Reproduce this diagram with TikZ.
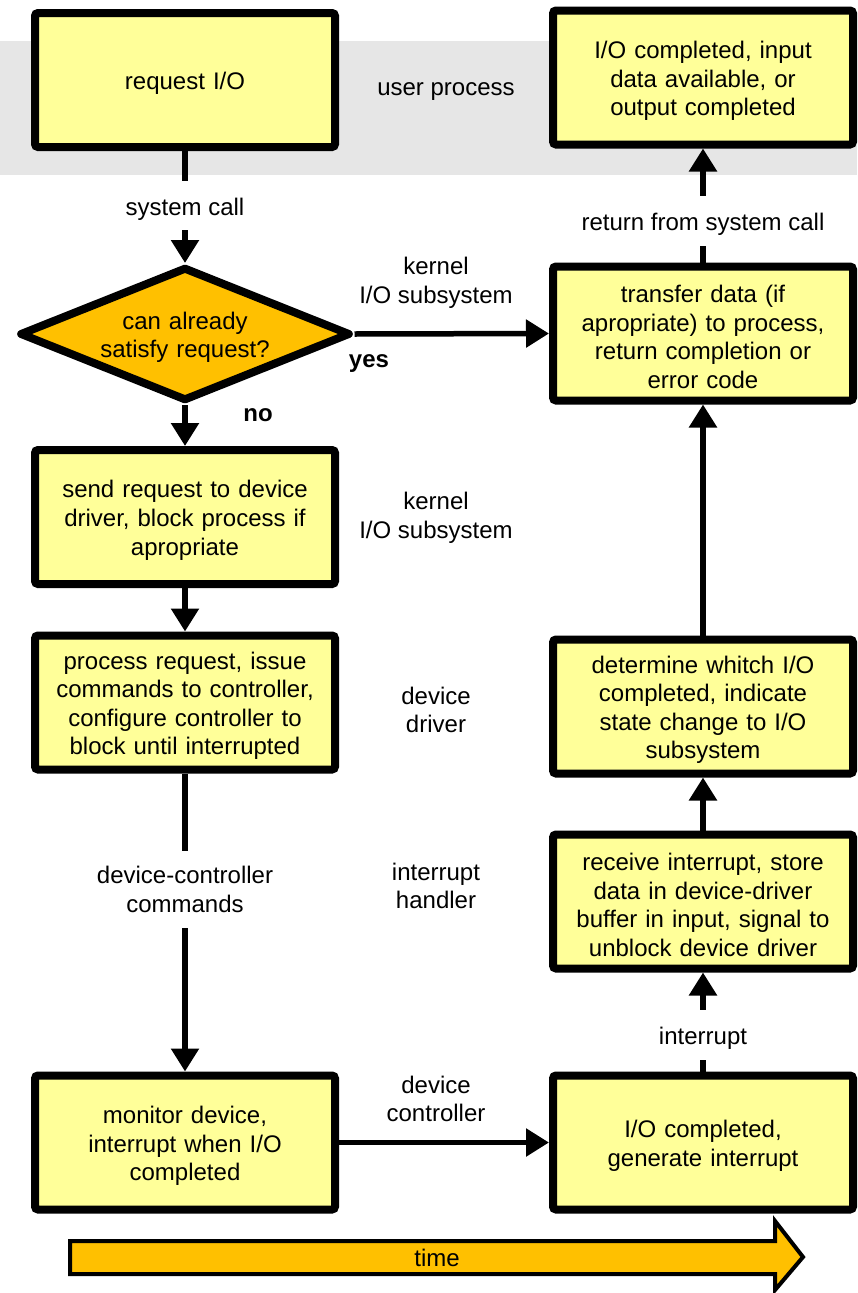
\documentclass[tikz,border=0pt]{standalone}
\usepackage{fontspec}
\setmainfont{Liberation Sans}
\usetikzlibrary{arrows.meta,shapes.geometric}
\definecolor{boxyellow}{HTML}{FFFF99}
\definecolor{decorange}{HTML}{FFC000}
\definecolor{bandgray}{HTML}{E6E6E6}
\begin{document}
\begin{tikzpicture}[x=1pt,y=-1pt,
  every node/.style={font=\fontsize{24}{28.6}\selectfont, execute at begin node={\rule{0pt}{24pt}}},
  procbox/.style={draw, line width=8pt, fill=boxyellow, rounded corners=3pt,
    minimum width=300pt, minimum height=134pt, text width=290pt, align=center, inner sep=0pt},
  decbox/.style={draw, shape=diamond, aspect=2.5, line width=8pt, line join=round,
    fill=decorange, minimum width=331pt, minimum height=134pt, inner sep=-10pt,
    text width=190pt, align=center},
  gaplabel/.style={inner sep=0pt, align=center},
  sidelabel/.style={align=center, inner sep=0pt},
  boldlabel/.style={font=\fontsize{24}{28.6}\selectfont\bfseries, inner sep=0pt},
  line/.style={line width=5.5pt},
  conn/.style={line width=5.5pt, -{Triangle[length=23pt,width=27pt]}},
  timearrow/.style={draw, line width=4pt, fill=decorange, line join=miter}
]
\useasboundingbox (0,0) rectangle (857,1293);
% user process band
\fill[bandgray] (0,41) rectangle (857,175);

% left column
\node[procbox] (req) at (185,80) {request I/O};
\node[decbox] (dec) at (185,334) {can already\\satisfy request?};
\node[procbox] (send) at (185,517) {send request to device\\driver, block process if\\apropriate};
\node[procbox] (proc) at (185,702.5) {process request, issue\\commands to controller,\\configure controller to\\block until interrupted};
\node[procbox] (mon) at (185,1142.5) {monitor device,\\interrupt when I/O\\completed};

% right column
\node[procbox] (out) at (703,77.5) {I/O completed, input\\data available, or\\output completed};
\node[procbox] (tr) at (703,333.5) {transfer data (if\\apropriate) to process,\\return completion or\\error code};
\node[procbox] (det) at (703,706.5) {determine whitch I/O\\completed, indicate\\state change to I/O\\subsystem};
\node[procbox] (rec) at (703,901.5) {receive interrupt, store\\data in device-driver\\buffer in input, signal to\\unblock device driver};
\node[procbox] (gen) at (703,1142.5) {I/O completed,\\generate interrupt};

% labels breaking connectors
\node[gaplabel, minimum height=49pt] (sc) at (185,205.5) {system call};
\node[gaplabel, minimum height=77pt] (dcc) at (185,889.5) {device-controller\\commands};
\node[gaplabel, minimum height=50pt] (intr) at (703,1035) {interrupt};
\node[gaplabel, minimum height=50pt] (rsc) at (703,221) {return from system call};

% side labels
\node[sidelabel] (up) at (446,86) {user process};
\node[sidelabel] (k1) at (436,283) {kernel\\I/O subsystem};
\node[sidelabel] (k2) at (436,518) {kernel\\I/O subsystem};
\node[sidelabel] (dd) at (436,710) {device\\driver};
\node[sidelabel] (ih) at (436,886) {interrupt\\handler};
\node[sidelabel] (dc) at (436,1099) {device\\controller};
\node[boldlabel] (yes) at (369,358) {yes};
\node[boldlabel] (no) at (258,410) {no};

% connectors
\draw[line] (req.south) -- (sc.north);
\draw[conn] (sc.south) -- (dec.north);
\draw[conn] (dec.east) -- (tr.west);
\draw[conn] (dec.south) -- (send.north);
\draw[conn] (send.south) -- (proc.north);
\draw[line] (proc.south) -- (dcc.north);
\draw[conn] (dcc.south) -- (mon.north);
\draw[conn] (mon.east) -- (gen.west);
\draw[line] (gen.north) -- (intr.south);
\draw[conn] (intr.north) -- (rec.south);
\draw[conn] (rec.north) -- (det.south);
\draw[conn] (det.north) -- (tr.south);
\draw[line] (tr.north) -- (rsc.south);
\draw[conn] (rsc.north) -- (out.south);

% time arrow
\draw[timearrow] (70,1241) -- (775,1241) -- (775,1221) -- (803,1257) -- (775,1290) -- (775,1274) -- (70,1274) -- cycle;
\node (time) at (437,1255) {time};
\end{tikzpicture}
\end{document}
